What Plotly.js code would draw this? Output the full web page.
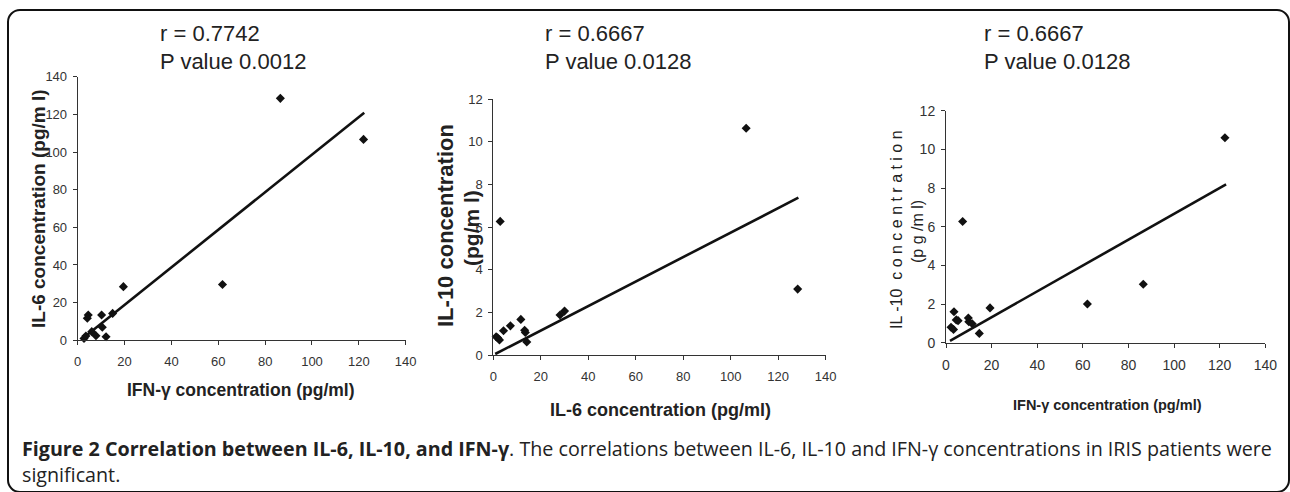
<!DOCTYPE html>
<html>
<head>
<meta charset="utf-8">
<script src="https://cdn.plot.ly/plotly-3.0.1.min.js"></script>
<style>
  html, body { margin: 0; padding: 0; background: #fff; overflow: hidden; }
  #wrap { position: relative; width: 1290px; height: 492px; }
  #chart { position: absolute; left: 0; top: 0; width: 1290px; height: 492px; }
  #frame { position: absolute; left: 7px; top: 9px; width: 1283px; height: 484px;
           box-sizing: border-box; border: 2px solid #111; border-radius: 13px; pointer-events: none; }
</style>
</head>
<body>
<div id="wrap"><div id="chart"></div><div id="frame"></div></div>
<script>
// ---- Panel 1: IFN-γ vs IL-6 ----
const p1IFN = [86.5, 122.0, 61.8, 19.5, 4.5, 4.1, 10.2, 14.9, 10.5, 7.8, 12.1, 6.0, 2.7, 3.5];
const p1IL6 = [128.5, 106.7, 29.6, 28.5, 13.4, 11.7, 13.4, 14.3, 6.9, 2.4, 1.9, 4.6, 1.0, 2.3];
const p1TrendX = [1.7, 122.3];
const p1TrendY = [0.5, 120.9];
// ---- Panel 2: IL-6 vs IL-10 ----
const p2IL6  = [106.5, 128.2, 2.9, 30.0, 28.1, 11.6, 7.2, 4.3, 13.2, 13.5, 14.1, 1.2, 1.8, 2.6];
const p2IL10 = [10.63, 3.10, 6.27, 2.07, 1.89, 1.68, 1.38, 1.15, 1.17, 1.07, 0.62, 0.87, 0.82, 0.72];
const p2TrendX = [0.8, 128.5];
const p2TrendY = [0.06, 7.38];
// ---- Panel 3: IFN-γ vs IL-10 ----
const p3IFN  = [122.3, 86.5, 62.0, 19.3, 7.3, 3.5, 4.5, 5.3, 9.8, 10.0, 11.5, 14.6, 2.2, 3.3];
const p3IL10 = [10.6, 3.02, 2.0, 1.8, 6.27, 1.6, 1.18, 1.14, 1.28, 1.08, 0.98, 0.48, 0.8, 0.68];
const p3TrendX = [1.75, 122.8];
const p3TrendY = [0.1, 8.19];

// tick values / labels
const xTicks = [0, 20, 40, 60, 80, 100, 120, 140];
const y1Ticks = [0, 20, 40, 60, 80, 100, 120, 140];
const y2Ticks = [0, 2, 4, 6, 8, 10, 12];

// titles
const panelTitles = [
  ["r = 0.7742", "P value 0.0012"],
  ["r = 0.6667", "P value 0.0128"],
  ["r = 0.6667", "P value 0.0128"]
];
const xTitles = ["IFN-γ concentration (pg/ml)", "IL-6 concentration (pg/ml)", "IFN-γ concentration (pg/ml)"];
const yTitles = [["IL-6 concentration (pg/m l)"], ["IL-10 concentration", "(pg/m l)"], ["IL -10  c o n c e n t r a t i o n", "(p g /m l)"]];
const captionBold = "Figure 2 Correlation between IL-6, IL-10, and IFN-γ";
const captionRest = ". The correlations between IL-6, IL-10 and IFN-γ concentrations in IRIS patients were";
const captionLine2 = "significant.";

const W = 1290, H = 492;
const px = v => v / W;
const py = v => 1 - v / H;

const SANS = "'Liberation Sans', Arial, sans-serif";
const CAP = "'Open Sans', 'Noto Sans', sans-serif";

function scatter(x, y, xa, ya) {
  return { x: x, y: y, xaxis: xa, yaxis: ya, type: 'scatter', mode: 'markers',
    marker: { symbol: 'diamond', size: 7, color: '#111' }, cliponaxis: false, hoverinfo: 'x+y' };
}
function trend(x, y, xa, ya) {
  return { x: x, y: y, xaxis: xa, yaxis: ya, type: 'scatter', mode: 'lines',
    line: { color: '#111', width: 2.6 }, cliponaxis: false, hoverinfo: 'skip' };
}

const data = [
  trend(p1TrendX, p1TrendY, 'x', 'y'),
  scatter(p1IFN, p1IL6, 'x', 'y'),
  trend(p2TrendX, p2TrendY, 'x2', 'y2'),
  scatter(p2IL6, p2IL10, 'x2', 'y2'),
  trend(p3TrendX, p3TrendY, 'x3', 'y3'),
  scatter(p3IFN, p3IL10, 'x3', 'y3')
];

function axis(domain, range, ticks, anchor, fontSize) {
  return {
    domain: domain, range: range, anchor: anchor,
    tickmode: 'array', tickvals: ticks, ticktext: ticks.map(String),
    showgrid: false, zeroline: false, showline: true, linecolor: '#333', linewidth: 1,
    ticks: 'outside', ticklen: 4, tickcolor: '#333', tickwidth: 1,
    tickfont: { family: SANS, size: fontSize, color: '#333' },
    fixedrange: true
  };
}

const layout = {
  width: W, height: H,
  margin: { l: 0, r: 0, t: 0, b: 0 },
  paper_bgcolor: '#fff', plot_bgcolor: 'rgba(0,0,0,0)',
  showlegend: false,
  xaxis:  axis([px(77.7), px(405.7)], [0, 140], xTicks, 'y', 13),
  yaxis:  axis([py(340.3), py(76.7)], [0, 140], y1Ticks, 'x', 13),
  xaxis2: axis([px(493.3), px(825.7)], [0, 140], xTicks, 'y2', 13),
  yaxis2: axis([py(355.3), py(99)], [0, 12], y2Ticks, 'x2', 13),
  xaxis3: axis([px(946), px(1265.3)], [0, 140], xTicks, 'y3', 14),
  yaxis3: axis([py(342.7), py(110.7)], [0, 12], y2Ticks, 'x3', 14),
  annotations: []
};
['xaxis', 'xaxis2', 'xaxis3'].forEach(k => layout[k].ticklabelstandoff = 5);
['yaxis', 'yaxis2', 'yaxis3'].forEach(k => layout[k].ticklabelstandoff = 3);

const ann = layout.annotations;
function text(t, x, y, font, opts) {
  ann.push(Object.assign({ text: t, xref: 'paper', yref: 'paper', x: px(x), y: py(y),
    xanchor: 'center', yanchor: 'middle', showarrow: false, font: font }, opts || {}));
}

// panel titles (left-aligned)
const titleLeft = [158, 543, 982];
panelTitles.forEach((lines, i) => {
  text(lines[0], titleLeft[i], 33, { family: SANS, size: 22, color: '#222' }, { xanchor: 'left' });
  text(lines[1], titleLeft[i], 62, { family: SANS, size: 22, color: '#222' }, { xanchor: 'left' });
});

// x-axis titles
text(xTitles[0], 241, 390, { family: SANS, size: 17.5, color: '#222', weight: 'bold' });
text(xTitles[1], 660, 410, { family: SANS, size: 18, color: '#222', weight: 'bold' });
text(xTitles[2], 1107, 405, { family: SANS, size: 14.5, color: '#222', weight: 'bold' });

// y-axis titles
text(yTitles[0][0], 38, 209, { family: SANS, size: 19, color: '#222', weight: 'bold' }, { textangle: -90 });
text(yTitles[1][0], 445, 226, { family: SANS, size: 22, color: '#222', weight: 'bold' }, { textangle: -90 });
text(yTitles[1][1], 472, 228, { family: SANS, size: 21, color: '#222', weight: 'bold' }, { textangle: -90 });
text(yTitles[2][0], 896, 230, { family: SANS, size: 16, color: '#222' }, { textangle: -90 });
text(yTitles[2][1], 917, 232, { family: SANS, size: 16, color: '#222' }, { textangle: -90 });

// caption (one block, two lines)
text('<b>' + captionBold + '</b>' + captionRest + '<br>' + captionLine2, 20, 461,
  { family: CAP, size: 19.7, color: '#222' }, { xanchor: 'left', align: 'left' });

Plotly.newPlot('chart', data, layout, { displayModeBar: false, staticPlot: true });
</script>
</body>
</html>
